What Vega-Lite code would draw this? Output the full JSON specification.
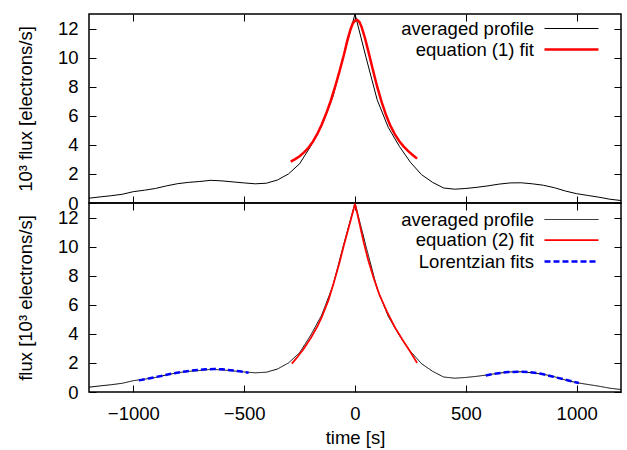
{
  "$schema": "https://vega.github.io/schema/vega-lite/v6.json",
  "padding": {"left": 15, "top": 12, "right": 5, "bottom": 0},
  "background": "white",
  "config": {
    "font": "Liberation Sans",
    "view": {"stroke": "black", "strokeWidth": 1.5},
    "axis": {"grid": false, "domain": false, "tickColor": "black", "tickWidth": 1, "tickSize": -7, "labelFont": "Liberation Sans", "labelFontSize": 18.5, "labelColor": "black", "titleFont": "Liberation Sans", "titleFontSize": 18.5, "titleFontWeight": "normal", "titleColor": "black"},
    "legend": {"orient": "none", "symbolType": "M-2.7,0H2.7", "symbolSize": 400, "labelAlign": "right", "labelOffset": -49, "labelFontSize": 18.5, "labelFont": "Liberation Sans", "labelColor": "black", "labelLimit": 0, "rowPadding": 0, "padding": 0}
  },
  "datasets": {
    "profile": [
      {"t": -1200, "f": 0.33, "s": "averaged profile"},
      {"t": -1150, "f": 0.42, "s": "averaged profile"},
      {"t": -1100, "f": 0.5, "s": "averaged profile"},
      {"t": -1050, "f": 0.6, "s": "averaged profile"},
      {"t": -1000, "f": 0.78, "s": "averaged profile"},
      {"t": -950, "f": 0.88, "s": "averaged profile"},
      {"t": -900, "f": 1.0, "s": "averaged profile"},
      {"t": -850, "f": 1.18, "s": "averaged profile"},
      {"t": -800, "f": 1.33, "s": "averaged profile"},
      {"t": -750, "f": 1.42, "s": "averaged profile"},
      {"t": -700, "f": 1.48, "s": "averaged profile"},
      {"t": -650, "f": 1.56, "s": "averaged profile"},
      {"t": -600, "f": 1.52, "s": "averaged profile"},
      {"t": -550, "f": 1.45, "s": "averaged profile"},
      {"t": -500, "f": 1.38, "s": "averaged profile"},
      {"t": -450, "f": 1.32, "s": "averaged profile"},
      {"t": -400, "f": 1.36, "s": "averaged profile"},
      {"t": -350, "f": 1.58, "s": "averaged profile"},
      {"t": -300, "f": 2.0, "s": "averaged profile"},
      {"t": -250, "f": 2.7, "s": "averaged profile"},
      {"t": -200, "f": 3.9, "s": "averaged profile"},
      {"t": -150, "f": 5.3, "s": "averaged profile"},
      {"t": -100, "f": 7.3, "s": "averaged profile"},
      {"t": -50, "f": 10.2, "s": "averaged profile"},
      {"t": 0, "f": 13.0, "s": "averaged profile"},
      {"t": 50, "f": 10.0, "s": "averaged profile"},
      {"t": 100, "f": 7.1, "s": "averaged profile"},
      {"t": 150, "f": 5.2, "s": "averaged profile"},
      {"t": 200, "f": 3.9, "s": "averaged profile"},
      {"t": 250, "f": 2.8, "s": "averaged profile"},
      {"t": 300, "f": 1.95, "s": "averaged profile"},
      {"t": 350, "f": 1.42, "s": "averaged profile"},
      {"t": 400, "f": 1.03, "s": "averaged profile"},
      {"t": 450, "f": 0.95, "s": "averaged profile"},
      {"t": 500, "f": 1.0, "s": "averaged profile"},
      {"t": 550, "f": 1.08, "s": "averaged profile"},
      {"t": 600, "f": 1.18, "s": "averaged profile"},
      {"t": 650, "f": 1.3, "s": "averaged profile"},
      {"t": 700, "f": 1.38, "s": "averaged profile"},
      {"t": 750, "f": 1.39, "s": "averaged profile"},
      {"t": 800, "f": 1.32, "s": "averaged profile"},
      {"t": 850, "f": 1.22, "s": "averaged profile"},
      {"t": 900, "f": 1.05, "s": "averaged profile"},
      {"t": 950, "f": 0.82, "s": "averaged profile"},
      {"t": 1000, "f": 0.64, "s": "averaged profile"},
      {"t": 1050, "f": 0.52, "s": "averaged profile"},
      {"t": 1100, "f": 0.4, "s": "averaged profile"},
      {"t": 1150, "f": 0.26, "s": "averaged profile"},
      {"t": 1200, "f": 0.17, "s": "averaged profile"}
    ],
    "fit1": [
      {"t": -290, "f": 2.85, "s": "equation (1) fit"},
      {"t": -270, "f": 3.02, "s": "equation (1) fit"},
      {"t": -250, "f": 3.22, "s": "equation (1) fit"},
      {"t": -230, "f": 3.48, "s": "equation (1) fit"},
      {"t": -210, "f": 3.8, "s": "equation (1) fit"},
      {"t": -190, "f": 4.22, "s": "equation (1) fit"},
      {"t": -170, "f": 4.75, "s": "equation (1) fit"},
      {"t": -150, "f": 5.4, "s": "equation (1) fit"},
      {"t": -130, "f": 6.15, "s": "equation (1) fit"},
      {"t": -110, "f": 7.0, "s": "equation (1) fit"},
      {"t": -90, "f": 7.98, "s": "equation (1) fit"},
      {"t": -70, "f": 9.05, "s": "equation (1) fit"},
      {"t": -50, "f": 10.2, "s": "equation (1) fit"},
      {"t": -35, "f": 11.15, "s": "equation (1) fit"},
      {"t": -20, "f": 11.95, "s": "equation (1) fit"},
      {"t": -10, "f": 12.35, "s": "equation (1) fit"},
      {"t": 0, "f": 12.55, "s": "equation (1) fit"},
      {"t": 10, "f": 12.6, "s": "equation (1) fit"},
      {"t": 20, "f": 12.45, "s": "equation (1) fit"},
      {"t": 30, "f": 12.1, "s": "equation (1) fit"},
      {"t": 45, "f": 11.35, "s": "equation (1) fit"},
      {"t": 60, "f": 10.45, "s": "equation (1) fit"},
      {"t": 80, "f": 9.2, "s": "equation (1) fit"},
      {"t": 100, "f": 8.0, "s": "equation (1) fit"},
      {"t": 120, "f": 6.95, "s": "equation (1) fit"},
      {"t": 140, "f": 6.05, "s": "equation (1) fit"},
      {"t": 160, "f": 5.3, "s": "equation (1) fit"},
      {"t": 180, "f": 4.72, "s": "equation (1) fit"},
      {"t": 200, "f": 4.25, "s": "equation (1) fit"},
      {"t": 220, "f": 3.88, "s": "equation (1) fit"},
      {"t": 240, "f": 3.57, "s": "equation (1) fit"},
      {"t": 260, "f": 3.3, "s": "equation (1) fit"},
      {"t": 280, "f": 3.05, "s": "equation (1) fit"}
    ],
    "fit2": [
      {"t": -285, "f": 1.95, "s": "equation (2) fit"},
      {"t": -260, "f": 2.4, "s": "equation (2) fit"},
      {"t": -230, "f": 3.0, "s": "equation (2) fit"},
      {"t": -200, "f": 3.7, "s": "equation (2) fit"},
      {"t": -170, "f": 4.5, "s": "equation (2) fit"},
      {"t": -150, "f": 5.15, "s": "equation (2) fit"},
      {"t": -120, "f": 6.3, "s": "equation (2) fit"},
      {"t": -95, "f": 7.55, "s": "equation (2) fit"},
      {"t": -70, "f": 8.9, "s": "equation (2) fit"},
      {"t": -50, "f": 10.1, "s": "equation (2) fit"},
      {"t": -25, "f": 11.5, "s": "equation (2) fit"},
      {"t": -10, "f": 12.35, "s": "equation (2) fit"},
      {"t": 0, "f": 12.95, "s": "equation (2) fit"},
      {"t": 10, "f": 12.3, "s": "equation (2) fit"},
      {"t": 20, "f": 11.6, "s": "equation (2) fit"},
      {"t": 40, "f": 10.25, "s": "equation (2) fit"},
      {"t": 60, "f": 9.05, "s": "equation (2) fit"},
      {"t": 85, "f": 7.8, "s": "equation (2) fit"},
      {"t": 110, "f": 6.7, "s": "equation (2) fit"},
      {"t": 145, "f": 5.5, "s": "equation (2) fit"},
      {"t": 180, "f": 4.45, "s": "equation (2) fit"},
      {"t": 220, "f": 3.45, "s": "equation (2) fit"},
      {"t": 250, "f": 2.75, "s": "equation (2) fit"},
      {"t": 280, "f": 2.0, "s": "equation (2) fit"}
    ],
    "lor": [
      {"t": -975, "f": 0.8, "s": "Lorentzian fits", "seg": "L"},
      {"t": -925, "f": 0.95, "s": "Lorentzian fits", "seg": "L"},
      {"t": -875, "f": 1.1, "s": "Lorentzian fits", "seg": "L"},
      {"t": -825, "f": 1.27, "s": "Lorentzian fits", "seg": "L"},
      {"t": -775, "f": 1.4, "s": "Lorentzian fits", "seg": "L"},
      {"t": -725, "f": 1.5, "s": "Lorentzian fits", "seg": "L"},
      {"t": -675, "f": 1.56, "s": "Lorentzian fits", "seg": "L"},
      {"t": -635, "f": 1.58, "s": "Lorentzian fits", "seg": "L"},
      {"t": -600, "f": 1.56, "s": "Lorentzian fits", "seg": "L"},
      {"t": -560, "f": 1.5, "s": "Lorentzian fits", "seg": "L"},
      {"t": -520, "f": 1.42, "s": "Lorentzian fits", "seg": "L"},
      {"t": -480, "f": 1.33, "s": "Lorentzian fits", "seg": "L"},
      {"t": 590, "f": 1.14, "s": "Lorentzian fits", "seg": "R"},
      {"t": 640, "f": 1.28, "s": "Lorentzian fits", "seg": "R"},
      {"t": 690, "f": 1.37, "s": "Lorentzian fits", "seg": "R"},
      {"t": 740, "f": 1.4, "s": "Lorentzian fits", "seg": "R"},
      {"t": 790, "f": 1.36, "s": "Lorentzian fits", "seg": "R"},
      {"t": 840, "f": 1.26, "s": "Lorentzian fits", "seg": "R"},
      {"t": 890, "f": 1.07, "s": "Lorentzian fits", "seg": "R"},
      {"t": 940, "f": 0.88, "s": "Lorentzian fits", "seg": "R"},
      {"t": 980, "f": 0.72, "s": "Lorentzian fits", "seg": "R"},
      {"t": 1010, "f": 0.62, "s": "Lorentzian fits", "seg": "R"}
    ]
  },
  "spacing": 0,
  "bounds": "flush",
  "vconcat": [
    {
      "width": 532,
      "height": 189,
      "layer": [
        {
          "data": {"name": "profile"},
          "mark": {"type": "line", "clip": true},
          "encoding": {
            "x": {"field": "t", "type": "quantitative", "scale": {"domain": [-1200, 1200], "nice": false, "zero": false}, "axis": {"orient": "bottom", "labels": false, "title": null, "values": [-1000, -500, 0, 500, 1000]}},
            "y": {"field": "f", "type": "quantitative", "scale": {"domain": [0, 13], "nice": false}, "axis": {"orient": "left", "title": "10³ flux [electrons/s]", "values": [0, 2, 4, 6, 8, 10, 12], "labelPadding": 18, "titlePadding": 22}},
            "color": {"field": "s", "type": "nominal", "scale": {"domain": ["averaged profile", "equation (1) fit"], "range": ["#000000", "#ff0000"]}, "legend": {"title": null, "legendX": 471, "legendY": 4}},
            "strokeWidth": {"field": "s", "type": "ordinal", "scale": {"domain": ["averaged profile", "equation (1) fit"], "range": [1, 2.5]}, "legend": {"title": null, "legendX": 471, "legendY": 4}}
          }
        },
        {
          "data": {"name": "fit1"},
          "mark": {"type": "line", "clip": true},
          "encoding": {
            "x": {"field": "t", "type": "quantitative", "scale": {"domain": [-1200, 1200], "nice": false, "zero": false}, "axis": {"orient": "top", "labels": false, "title": null, "values": [-1000, -500, 0, 500, 1000]}},
            "y": {"field": "f", "type": "quantitative", "scale": {"domain": [0, 13], "nice": false}, "axis": {"orient": "right", "labels": false, "title": null, "values": [0, 2, 4, 6, 8, 10, 12]}},
            "color": {"field": "s", "type": "nominal", "scale": {"domain": ["averaged profile", "equation (1) fit"], "range": ["#000000", "#ff0000"]}, "legend": {"title": null, "legendX": 471, "legendY": 4}},
            "strokeWidth": {"field": "s", "type": "ordinal", "scale": {"domain": ["averaged profile", "equation (1) fit"], "range": [1, 2.5]}, "legend": {"title": null, "legendX": 471, "legendY": 4}}
          }
        }
      ],
      "resolve": {"axis": {"x": "independent", "y": "independent"}}
    },
    {
      "width": 532,
      "height": 189,
      "layer": [
        {
          "data": {"name": "profile"},
          "mark": {"type": "line", "clip": true},
          "encoding": {
            "x": {"field": "t", "type": "quantitative", "scale": {"domain": [-1200, 1200], "nice": false, "zero": false}, "axis": {"orient": "bottom", "title": "time [s]", "format": "d", "values": [-1000, -500, 0, 500, 1000], "labelPadding": 19, "titlePadding": 6}},
            "y": {"field": "f", "type": "quantitative", "scale": {"domain": [0, 13], "nice": false}, "axis": {"orient": "left", "title": "flux [10³ electrons/s]", "values": [0, 2, 4, 6, 8, 10, 12], "labelPadding": 18, "titlePadding": 22}},
            "color": {"field": "s", "type": "nominal", "scale": {"domain": ["averaged profile", "equation (2) fit", "Lorentzian fits"], "range": ["#000000", "#ff0000", "#0000ff"]}, "legend": {"title": null, "legendX": 471, "legendY": 6}},
            "strokeWidth": {"field": "s", "type": "ordinal", "scale": {"domain": ["averaged profile", "equation (2) fit", "Lorentzian fits"], "range": [1, 2.5, 2.2]}, "legend": {"title": null, "legendX": 471, "legendY": 6}},
            "strokeDash": {"field": "s", "type": "nominal", "scale": {"domain": ["averaged profile", "equation (2) fit", "Lorentzian fits"], "range": [[1, 0], [1, 0], [6, 3]]}, "legend": {"title": null, "legendX": 471, "legendY": 6}}
          }
        },
        {
          "data": {"name": "fit2"},
          "mark": {"type": "line", "clip": true},
          "encoding": {
            "x": {"field": "t", "type": "quantitative", "scale": {"domain": [-1200, 1200], "nice": false, "zero": false}, "axis": {"orient": "top", "labels": false, "title": null, "values": [-1000, -500, 0, 500, 1000]}},
            "y": {"field": "f", "type": "quantitative", "scale": {"domain": [0, 13], "nice": false}, "axis": {"orient": "right", "labels": false, "title": null, "values": [0, 2, 4, 6, 8, 10, 12]}},
            "color": {"field": "s", "type": "nominal", "scale": {"domain": ["averaged profile", "equation (2) fit", "Lorentzian fits"], "range": ["#000000", "#ff0000", "#0000ff"]}, "legend": {"title": null, "legendX": 471, "legendY": 6}},
            "strokeWidth": {"field": "s", "type": "ordinal", "scale": {"domain": ["averaged profile", "equation (2) fit", "Lorentzian fits"], "range": [1, 2.5, 2.2]}, "legend": {"title": null, "legendX": 471, "legendY": 6}},
            "strokeDash": {"field": "s", "type": "nominal", "scale": {"domain": ["averaged profile", "equation (2) fit", "Lorentzian fits"], "range": [[1, 0], [1, 0], [6, 3]]}, "legend": {"title": null, "legendX": 471, "legendY": 6}}
          }
        },
        {
          "data": {"name": "lor"},
          "mark": {"type": "line", "clip": true},
          "encoding": {
            "x": {"field": "t", "type": "quantitative", "scale": {"domain": [-1200, 1200], "nice": false, "zero": false}, "axis": null},
            "y": {"field": "f", "type": "quantitative", "scale": {"domain": [0, 13], "nice": false}, "axis": null},
            "detail": {"field": "seg", "type": "nominal"},
            "color": {"field": "s", "type": "nominal", "scale": {"domain": ["averaged profile", "equation (2) fit", "Lorentzian fits"], "range": ["#000000", "#ff0000", "#0000ff"]}, "legend": {"title": null, "legendX": 471, "legendY": 6}},
            "strokeWidth": {"field": "s", "type": "ordinal", "scale": {"domain": ["averaged profile", "equation (2) fit", "Lorentzian fits"], "range": [1, 2.5, 2.2]}, "legend": {"title": null, "legendX": 471, "legendY": 6}},
            "strokeDash": {"field": "s", "type": "nominal", "scale": {"domain": ["averaged profile", "equation (2) fit", "Lorentzian fits"], "range": [[1, 0], [1, 0], [6, 3]]}, "legend": {"title": null, "legendX": 471, "legendY": 6}}
          }
        }
      ],
      "resolve": {"axis": {"x": "independent", "y": "independent"}}
    }
  ],
  "resolve": {
    "scale": {"color": "independent", "strokeWidth": "independent", "strokeDash": "independent"},
    "legend": {"color": "independent", "strokeWidth": "independent", "strokeDash": "independent"}
  }
}
